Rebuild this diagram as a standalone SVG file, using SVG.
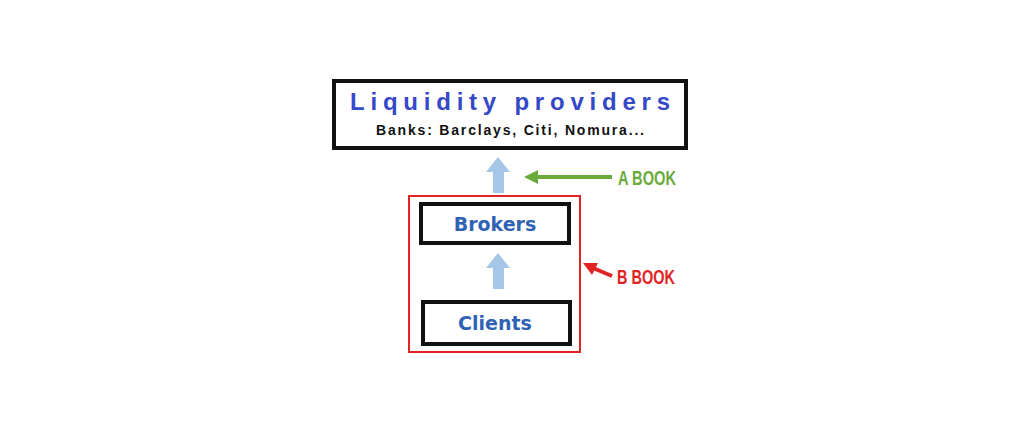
<svg xmlns="http://www.w3.org/2000/svg" width="1024" height="430" viewBox="0 0 1024 430">
<style>
.box{fill:#fff;stroke:#111;stroke-width:4}
.blk{fill:#a6c6e8}
.lbl{font-family:"DejaVu Sans","Liberation Sans",sans-serif;font-weight:bold;fill:#2f62b5;text-anchor:middle}
.book{font-family:"Liberation Sans",sans-serif;font-weight:bold;font-size:20px}
</style>
<rect width="1024" height="430" fill="#fff"/>
<g id="liquidity">
<rect class="box" x="334" y="81" width="352" height="67"/>
<text x="510" y="110" font-family="Liberation Sans,sans-serif" font-weight="bold" font-size="24" fill="#3548c8" text-anchor="middle" textLength="320" lengthAdjust="spacing">Liquidity providers</text>
<text x="510" y="135" font-family="Liberation Sans,sans-serif" font-weight="bold" font-size="14" fill="#111" text-anchor="middle" textLength="268" lengthAdjust="spacing">Banks: Barclays, Citi, Nomura...</text>
</g>
<g id="bbook">
<rect x="409" y="196" width="171" height="156" fill="none" stroke="#e02424" stroke-width="2"/>
</g>
<g id="brokers">
<rect class="box" x="421" y="204" width="148" height="39"/>
<text class="lbl" x="495" y="231" font-size="19">Brokers</text>
</g>
<g id="clients">
<rect class="box" x="423" y="302" width="147" height="42"/>
<text class="lbl" x="495" y="330" font-size="19">Clients</text>
</g>
<g id="connectors">
<path class="blk" d="M498 157 L510 172 L504 172 L504 193 L493 193 L493 172 L486 172 Z"/>
<path class="blk" d="M498 253 L510 268 L504 268 L504 289 L493 289 L493 268 L486 268 Z"/>
<line x1="612" y1="177" x2="536" y2="177" stroke="#6aaa3c" stroke-width="4"/>
<path d="M524 177 L538 170 L538 184 Z" fill="#6aaa3c"/>
<line x1="612" y1="276" x2="593" y2="268" stroke="#e02424" stroke-width="4"/>
<path d="M583 263 L598 263 L592 275 Z" fill="#e02424"/>
</g>
<g id="labels">
<text class="book" x="618" y="185" fill="#6aaa3c" textLength="58" lengthAdjust="spacingAndGlyphs">A BOOK</text>
<text class="book" x="617" y="284" fill="#e02424" textLength="58" lengthAdjust="spacingAndGlyphs">B BOOK</text>
</g>
</svg>
